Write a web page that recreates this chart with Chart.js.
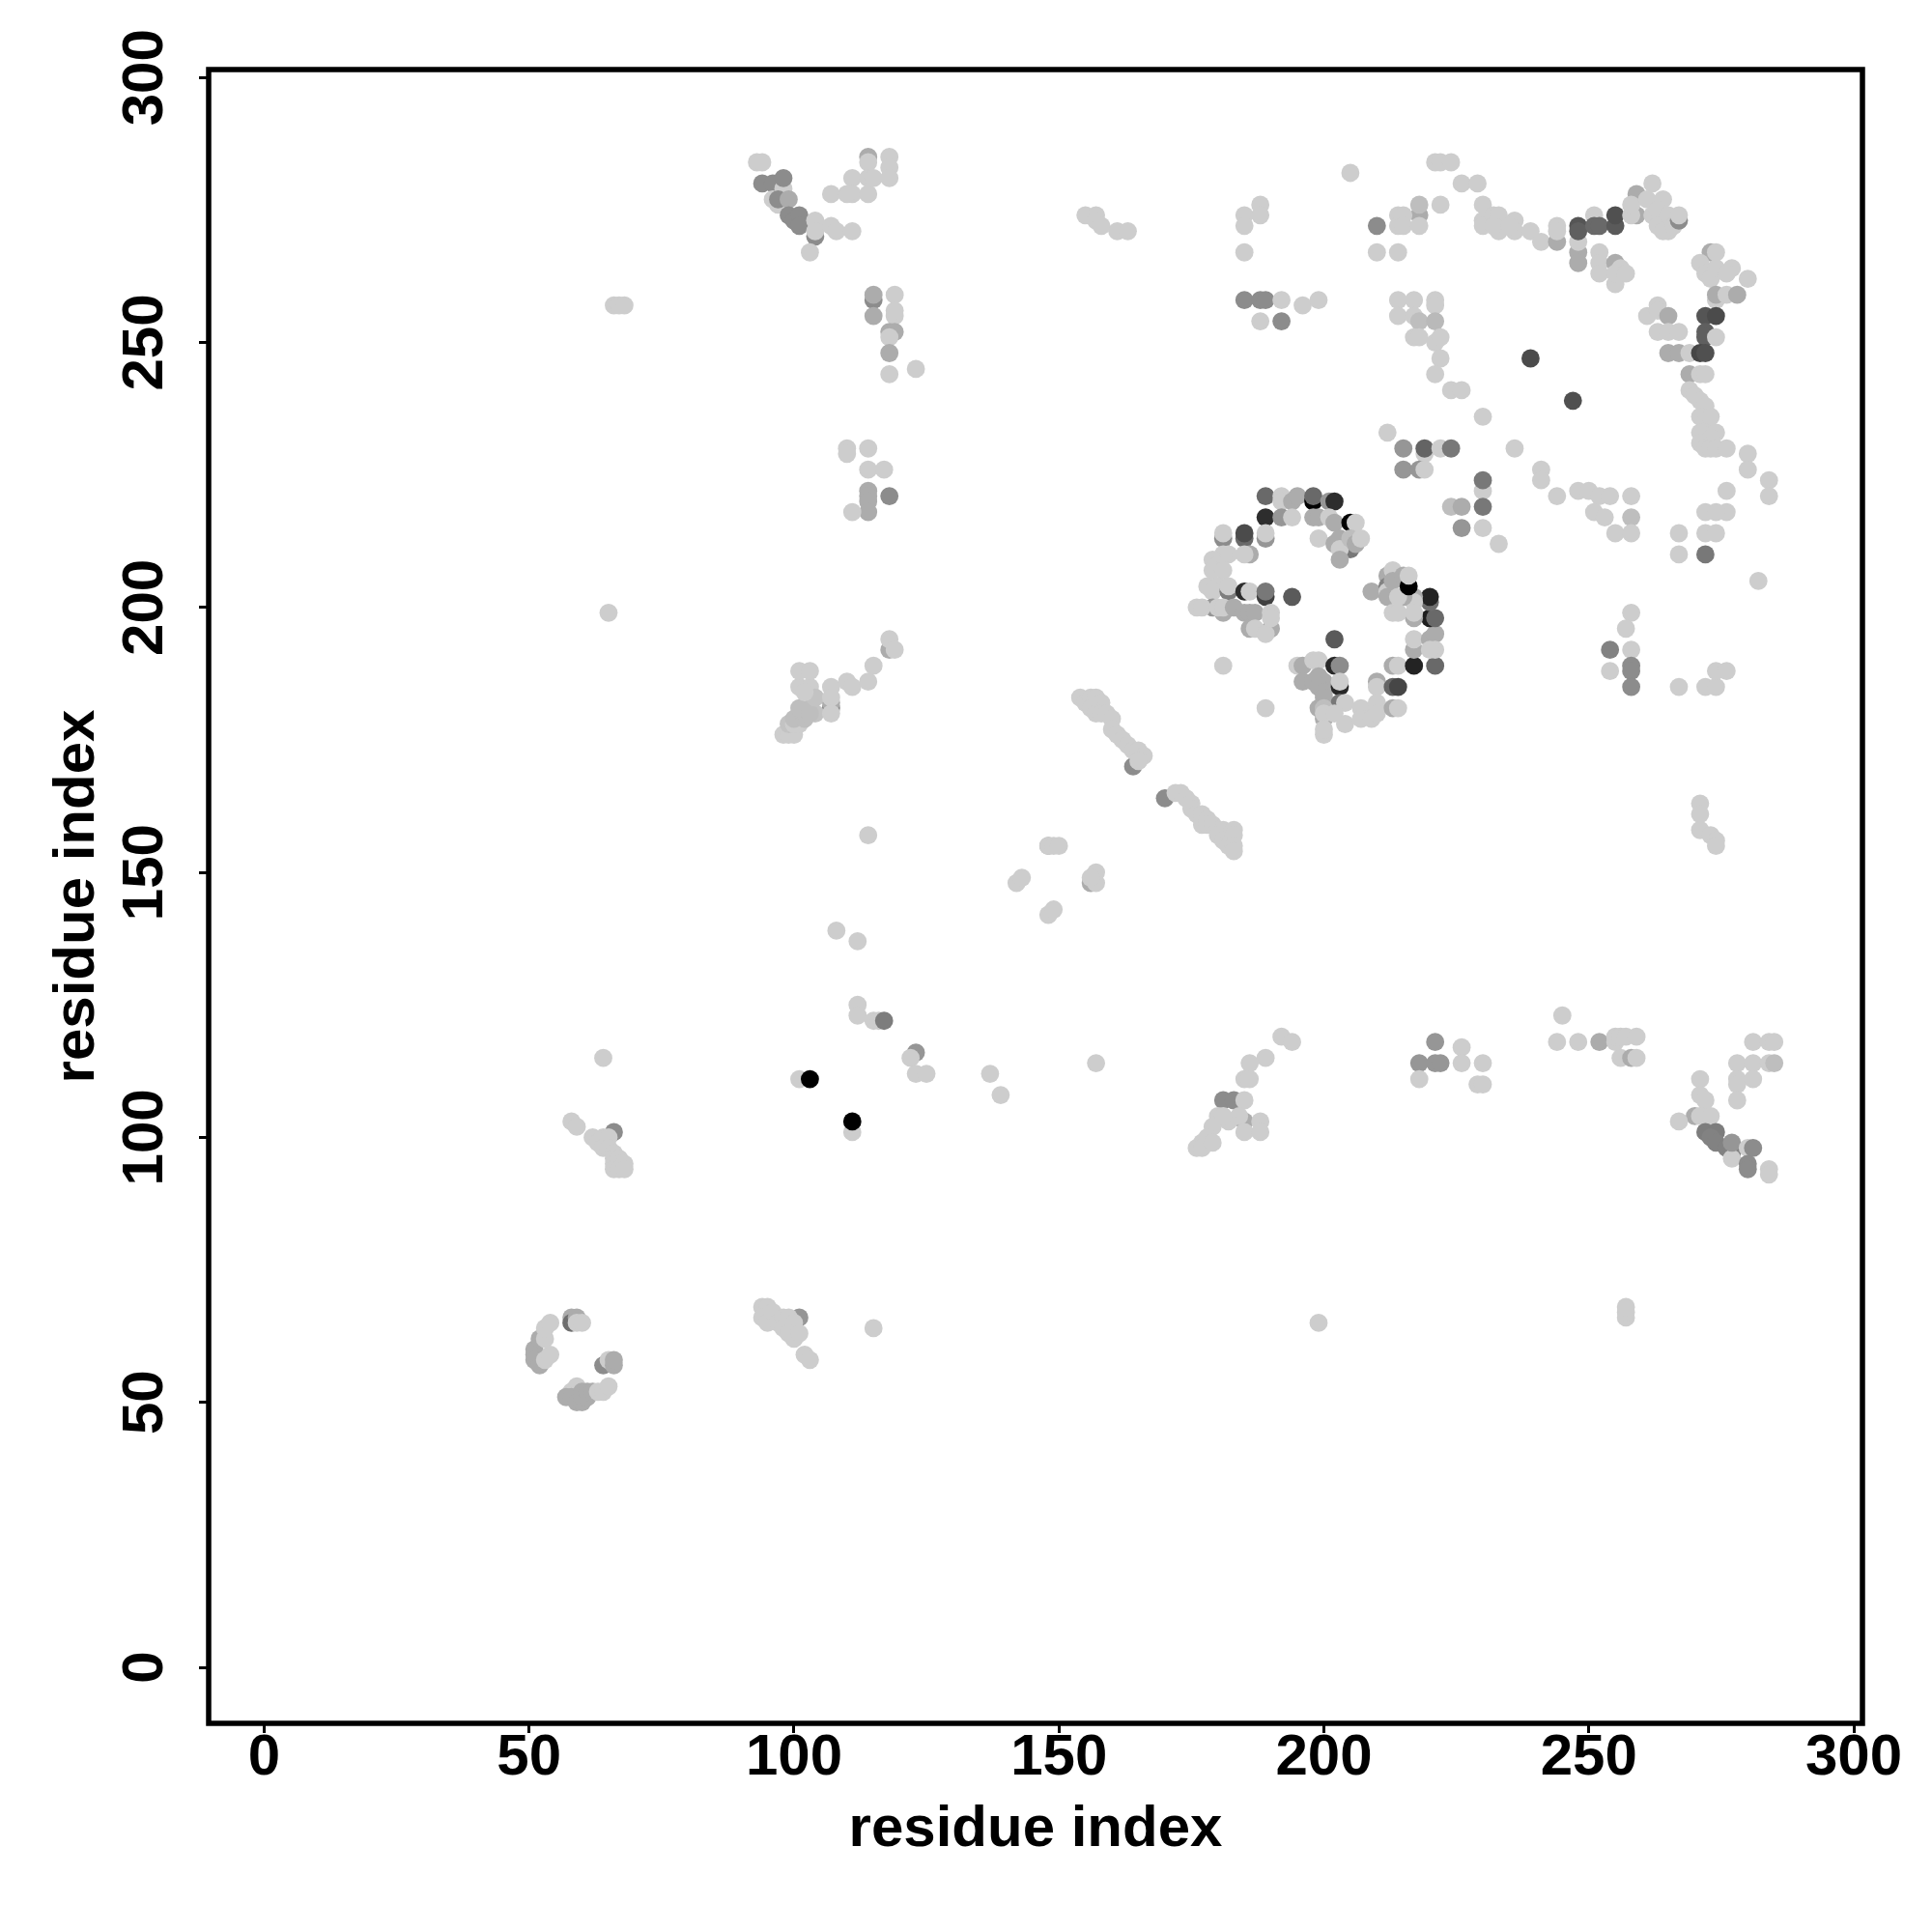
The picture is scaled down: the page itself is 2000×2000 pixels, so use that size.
<!DOCTYPE html>
<html><head><meta charset="utf-8">
<script src="https://cdn.jsdelivr.net/npm/chart.js@4/dist/chart.umd.min.js"></script>
<style>html,body{margin:0;padding:0;background:#fff}canvas{display:block}</style>
</head><body><canvas id="c" width="2000" height="2000"></canvas>
<script>
const L=205,M=172,D=140;
const tickValues=[0,50,100,150,200,250,300];
const axisLabel='residue index';
const helixLowLeft=[[51,60,M],[51,59,M],[51,58,M],[52,57,M],[52,62,M],[53,58,L],[54,59,L],[53,62,L],[53,64,L],[54,65,L],[58,66,M],[58,65,110],[59,66,M],[59,65,L],[60,65,L],[58,52,L],[59,53,L],[57,51,M],[58,51,M],[59,50,M],[60,50,M],[60,51,M],[60,52,M],[61,51,M],[61,52,M],[62,52,M],[63,52,L],[64,52,L],[65,53,L],[64,57,D],[65,58,L],[66,57,M],[66,58,M]];
const helixNear65=[[66,101,D],[58,103,L],[59,102,L],[62,100,L],[63,99,L],[64,100,L],[64,98,L],[65,100,L],[65,98,L],[66,97,L],[66,96,L],[66,95,L],[67,96,L],[67,95,L],[66,94,L],[67,94,L],[68,95,L],[68,94,L],[64,115,L],[65,199,L],[66,257,L],[67,257,L],[68,257,L]];
const block95to103=[[101,66,150],[94,68,L],[95,68,L],[94,66,L],[95,65,L],[96,67,L],[97,65,L],[98,66,L],[99,66,L],[98,64,L],[100,65,L],[99,63,L],[100,62,L],[101,63,L],[102,59,L],[103,58,L],[115,64,L],[199,65,L],[257,66,L],[257,67,L],[257,68,L]];
const isolated100to157=[[101,111,L],[103,111,0],[111,101,L],[111,103,0],[108,139,L],[112,137,L],[114,157,L],[112,125,L],[112,123,L],[115,122,L],[116,122,L],[117,122,125],[123,116,150],[122,115,L],[123,112,L],[125,112,L],[137,112,L],[139,108,L],[157,114,L]];
const diag142to157=[[142,148,L],[143,149,L],[148,155,M],[148,155,L],[149,155,L],[150,155,L],[156,148,M],[157,148,L],[157,150,L],[156,149,L],[148,142,L],[149,143,L]];
const diag154to166=[[164,170,D],[154,183,L],[155,182,L],[156,183,L],[157,183,L],[158,182,L],[156,181,L],[157,180,L],[158,180,L],[159,180,L],[160,179,L],[160,177,L],[161,176,L],[162,175,L],[163,174,L],[164,173,L],[165,173,L],[166,172,L],[165,171,L]];
const diag170to183=[[170,164,D],[172,165,L],[173,165,L],[174,164,L],[175,163,L],[175,162,L],[176,161,L],[177,161,L],[177,159,L],[178,160,L],[178,159,L],[179,159,L],[180,158,L],[181,158,L],[183,158,L],[180,157,L],[181,156,L],[182,156,L],[183,157,L],[182,155,L],[183,155,L],[183,154,L]];
const helix98to119=[[107,181,140],[107,182,M],[118,192,M],[98,176,L],[99,176,L],[100,176,L],[99,178,195],[100,178,L],[101,178,L],[100,179,190],[102,179,190],[102,180,190],[103,181,190],[104,180,195],[101,181,190],[103,180,190],[101,185,L],[103,185,L],[101,188,L],[103,188,L],[104,183,195],[102,184,L],[107,185,L],[107,183,L],[107,180,L],[110,186,L],[111,185,L],[114,186,L],[115,189,L],[118,194,L],[119,192,L]];
const top93to118=[[94,280,D],[96,280,D],[98,279,L],[98,281,D],[96,277,L],[97,276,L],[97,277,D],[99,277,M],[99,274,D],[100,273,D],[101,274,D],[101,272,D],[104,270,D],[93,284,L],[94,284,L],[104,273,L],[104,271,L],[107,272,L],[108,271,L],[111,271,L],[103,267,L],[107,278,L],[111,281,L],[111,278,L],[110,278,L],[114,278,L],[114,285,M],[114,284,L],[114,281,L],[115,281,L],[118,285,L],[118,283,L],[118,281,L]];
const block115to123=[[115,258,D],[115,259,M],[115,255,M],[119,259,L],[119,255,L],[119,256,L],[118,252,M],[119,252,M],[118,251,L],[118,248,M],[118,244,L],[123,245,L]];
const block110to118=[[110,230,L],[110,229,L],[114,230,L],[114,226,L],[117,226,L],[114,222,M],[114,221,M],[114,220,M],[114,218,M],[111,218,L],[118,221,D]];
const row155to163=[[155,274,L],[157,274,L],[157,273,L],[158,272,L],[161,271,L],[163,271,L],[185,274,L],[188,276,L],[188,274,L],[185,272,L],[185,267,L],[185,258,D],[188,258,D],[189,258,D],[192,258,L],[196,257,L],[199,258,L],[188,254,L],[192,254,D]];
const ringUpper=[[189,221,105],[192,221,L],[192,220,L],[194,220,M],[195,221,M],[198,220,0],[198,221,105],[201,220,150],[202,220,45],[189,217,45],[192,217,150],[194,217,L],[198,217,M],[199,217,M],[201,217,L],[202,216,M],[205,216,0],[206,216,L],[181,213,140],[181,214,L],[185,213,105],[185,214,75],[189,213,150],[189,214,L],[199,213,L],[205,211,120],[202,212,M],[203,213,M],[203,211,L],[205,213,190],[206,212,M],[207,213,L],[203,209,M]];
const ringLeft=[[186,210,M],[185,210,L],[182,210,L],[181,210,L],[179,209,L],[180,208,L],[179,207,L],[181,207,L],[178,204,L],[180,204,L],[179,203,L],[182,203,125],[182,204,L],[185,203,45],[186,203,L],[189,202,65],[189,203,120],[194,202,90],[179,200,150],[176,200,L],[177,200,L],[181,199,M],[180,200,L],[181,200,L],[183,200,M],[185,199,M],[186,199,M],[187,199,M],[186,196,M],[190,196,M],[187,196,L],[189,195,L],[190,199,L],[190,198,L],[181,189,L],[189,181,L]];
const ringLower=[[202,194,90],[195,189,L],[196,189,M],[198,190,L],[199,190,L],[202,189,40],[203,189,D],[196,186,M],[199,187,M],[200,186,M],[198,186,M],[199,185,M],[200,184,M],[203,185,40],[203,186,L],[199,181,M],[200,183,M],[203,182,120],[204,182,L],[200,179,M],[200,181,190],[200,180,L],[200,176,L],[200,177,L],[202,180,L],[204,178,L],[207,181,L],[207,179,L],[209,179,L],[210,186,M],[210,185,L],[210,182,L],[210,180,L],[213,185,100],[214,185,70],[213,181,M],[214,181,L],[213,189,M],[214,189,L]];
const ringRight=[[217,189,35],[221,189,105],[217,192,M],[217,194,L],[220,194,M],[221,195,M],[221,192,L],[220,192,L],[220,198,30],[221,198,105],[220,201,110],[220,202,35],[217,202,M],[217,201,L],[217,198,M],[217,199,L],[215,202,M],[209,203,M],[212,206,M],[212,204,130],[212,203,L],[213,207,L],[213,205,M],[212,202,M],[213,199,L],[214,199,L],[214,202,L],[215,206,M],[216,204,0],[216,206,L]];
const topRow205to244=[[205,282,L],[221,284,L],[222,284,L],[224,284,L],[226,280,L],[229,280,L],[210,272,D],[218,274,M],[214,274,L],[214,272,L],[215,274,L],[215,272,L],[218,276,190],[218,272,L],[222,276,L],[210,267,L],[214,267,L],[230,276,L],[230,273,L],[230,272,L],[232,274,L],[233,274,L],[233,271,L],[232,272,L],[236,273,L],[236,271,L],[235,272,L],[239,271,L],[241,269,L],[244,269,M],[244,272,L],[244,271,L]];
const topCorner248=[[248,267,M],[248,265,M],[248,269,L],[248,272,85],[248,271,95],[251,274,L],[251,272,105],[252,272,105],[255,272,90],[255,274,80],[252,267,L],[252,265,L],[252,263,L],[255,265,M],[255,261,L],[255,263,L],[256,264,L],[257,263,L]];
const top258to267=[[259,274,M],[258,274,L],[259,278,M],[258,276,L],[262,280,L],[261,277,L],[264,277,L],[262,274,L],[263,275,L],[263,272,L],[265,274,L],[265,271,L],[264,271,L],[266,272,L],[267,273,D],[267,274,L]];
const rightSide=[[273,267,M],[271,265,L],[272,263,L],[273,262,L],[274,264,L],[274,267,L],[277,264,L],[276,263,L],[280,262,L],[274,258,L],[274,259,M],[276,259,L],[278,259,M],[272,255,85],[274,255,75],[272,252,95],[272,251,95],[274,251,L],[265,248,M],[267,248,M],[269,248,L],[271,248,70],[272,248,80],[269,244,M],[271,244,L],[272,244,L],[269,241,L],[270,240,L],[271,239,L],[272,238,L],[271,236,L],[272,235,L],[273,236,L],[272,233,L],[271,233,L],[274,233,L],[273,232,L],[271,231,L],[272,230,L],[273,230,L],[274,230,L],[276,230,L],[280,229,L],[280,226,L],[263,257,L],[261,255,L],[263,256,L],[265,255,M],[263,252,L],[265,252,L],[267,252,L],[239,247,75],[247,239,80]];
const block214to241=[[214,258,L],[217,258,L],[221,258,L],[221,257,L],[214,255,L],[217,255,L],[218,254,190],[221,254,185],[217,251,L],[218,251,L],[221,250,L],[222,251,L],[222,247,L],[221,244,L],[224,241,L],[226,241,L],[230,236,L],[212,233,L],[215,230,150],[219,229,L],[219,230,100],[222,230,L],[224,230,120],[236,230,L],[215,226,150],[218,226,150],[219,226,L],[241,226,L]];
const block224to258=[[241,224,L],[244,221,L],[248,222,L],[250,222,L],[252,221,L],[251,218,L],[254,221,L],[258,221,L],[253,217,L],[258,217,190],[255,214,L],[258,214,L],[230,222,L],[230,224,120],[230,219,120],[224,219,190],[226,219,M],[226,215,150],[230,215,L],[233,212,L]];
const block258to284=[[267,214,L],[267,210,L],[272,218,L],[272,214,L],[274,214,L],[272,210,120],[276,218,L],[274,218,L],[276,222,L],[284,224,L],[284,221,L],[282,205,L],[267,185,L],[272,185,L],[274,185,L],[274,188,L],[276,188,L],[258,199,L],[254,192,130],[257,196,L],[258,192,L],[258,189,D],[258,188,D],[258,185,D],[254,188,L],[271,163,L],[271,161,L],[271,158,L],[273,157,L],[274,156,L],[274,155,L]];
const lower218to259=[[245,123,L],[244,118,L],[248,118,L],[252,118,M],[255,118,L],[255,119,L],[256,119,L],[257,119,L],[259,119,L],[256,115,L],[258,115,M],[259,115,L],[221,118,150],[218,114,150],[221,114,150],[222,114,150],[218,111,L],[226,117,L],[226,114,L],[230,114,L],[229,110,L],[230,110,L]];
const helix176to194=[[181,107,D],[183,107,D],[185,103,M],[192,119,L],[194,118,L],[189,115,L],[186,114,L],[185,111,L],[186,111,L],[185,107,L],[184,104,L],[188,103,L],[185,101,L],[188,101,L],[180,104,L],[179,102,L],[177,99,L],[176,98,L],[178,100,L],[182,103,L],[181,104,L],[177,98,L],[179,99,L]];
const lowerRight=[[270,104,M],[267,103,L],[271,111,L],[271,108,L],[272,107,L],[271,104,L],[273,104,L],[272,101,125],[274,101,125],[273,100,130],[274,99,130],[276,98,130],[277,97,130],[277,96,L],[277,99,150],[280,98,L],[281,98,D],[280,95,D],[280,94,D],[284,94,L],[284,93,L],[278,114,L],[278,111,L],[278,110,L],[278,107,L],[281,118,L],[281,114,L],[281,111,L],[284,118,L],[285,118,L],[284,114,L],[285,114,190]];
const contacts=[...helixLowLeft,...helixNear65,...block95to103,...isolated100to157,...diag142to157,...diag154to166,...diag170to183,...helix98to119,...top93to118,...block115to123,...block110to118,...row155to163,...ringUpper,...ringLeft,...ringLower,...ringRight,...topRow205to244,...topCorner248,...top258to267,...rightSide,...block214to241,...block224to258,...block258to284,...lower218to259,...helix176to194,...lowerRight];
const FONT='"Liberation Sans",Arial,sans-serif';
const frame={id:'frame',afterDatasetsDraw(ch){const a=ch.chartArea,c=ch.ctx;c.save();c.strokeStyle='#000';c.lineWidth=5.5;c.strokeRect(a.left,a.top,a.right-a.left,a.bottom-a.top);c.restore();}};
new Chart(document.getElementById('c'),{type:'scatter',
 data:{datasets:[{data:contacts.map(p=>({x:p[0],y:p[1]})),
   backgroundColor:contacts.map(p=>`rgb(${p[2]},${p[2]},${p[2]})`),pointRadius:9.4,pointBorderWidth:0,pointHoverRadius:9.4,clip:false}]},
 plugins:[frame],
 options:{responsive:false,animation:false,events:[],
  layout:{padding:{top:72,right:72,left:0,bottom:0}},
  plugins:{legend:{display:false},tooltip:{enabled:false}},
  scales:{
   x:{type:'linear',min:-10.47,max:301.64,afterFit:s=>{s.height=216},
    afterBuildTicks:s=>{s.ticks=tickValues.map(v=>({value:v}))},
    grid:{drawOnChartArea:false,drawTicks:true,tickLength:10,tickWidth:3,tickColor:'#000'},border:{display:false},
    ticks:{color:'#000',font:{family:FONT,size:60,weight:'bold'},padding:-10,maxRotation:0,minRotation:0,autoSkip:false},
    title:{display:true,text:axisLabel,color:'#000',font:{family:FONT,size:60,weight:'bold'},padding:{top:0,bottom:70}}},
   y:{type:'linear',min:-10.57,max:301.5,afterFit:s=>{s.width=216},
    afterBuildTicks:s=>{s.ticks=tickValues.map(v=>({value:v}))},
    grid:{drawOnChartArea:false,drawTicks:true,tickLength:10,tickWidth:3,tickColor:'#000'},border:{display:false},
    ticks:{color:'#000',font:{family:FONT,size:60,weight:'bold'},padding:4.5,minRotation:90,maxRotation:90,autoSkip:false,crossAlign:'center'},
    title:{display:true,text:axisLabel,color:'#000',font:{family:FONT,size:60,weight:'bold'},padding:{top:44,bottom:0}}}
  }}});
</script></body></html>
